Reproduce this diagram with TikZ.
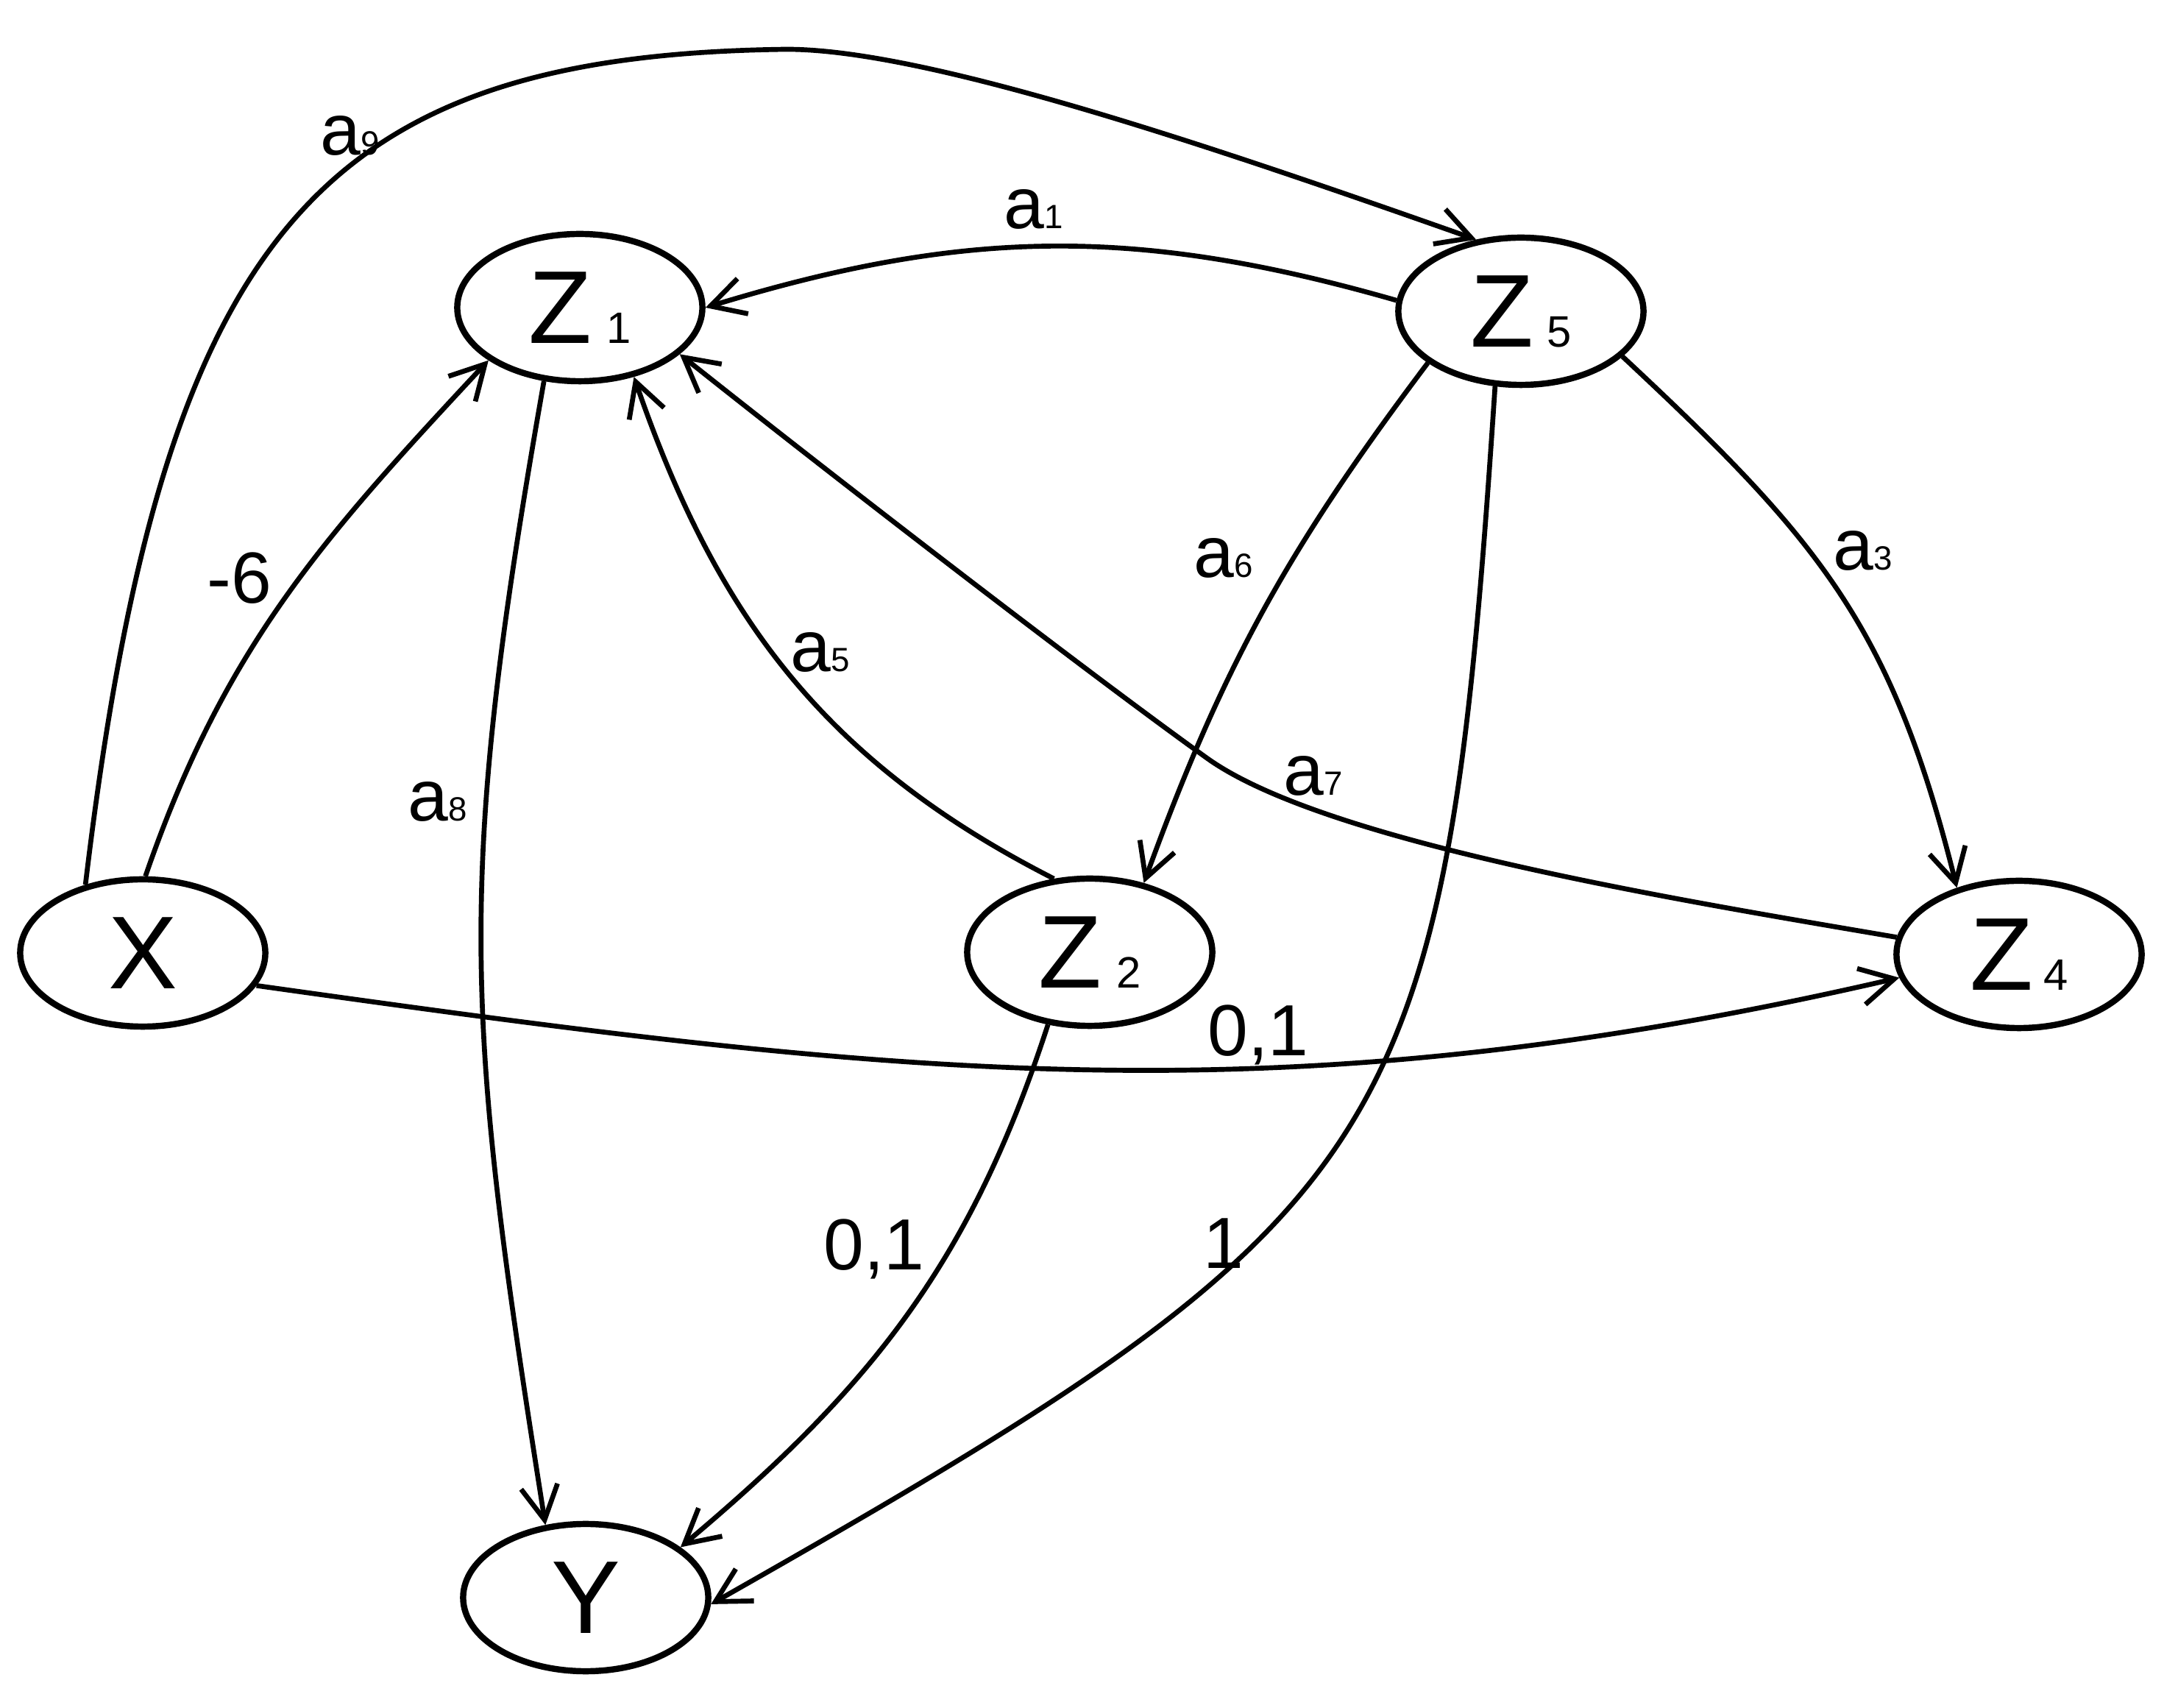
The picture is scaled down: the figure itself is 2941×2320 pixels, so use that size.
\documentclass[tikz,border=0pt]{standalone}
\usepackage{fontspec}
\setmainfont{Liberation Sans}
\usetikzlibrary{shapes.geometric,arrows.meta}
\newcommand\zn[2][5.6pt]{Z\kern#1{\fontsize{17pt}{17pt}\selectfont #2}}
\newcommand\an[1]{a{\fontsize{13pt}{13pt}\selectfont #1}}
\begin{document}
\begin{tikzpicture}[x=0.01cm,y=0.01cm,
  vertex/.style={ellipse, draw, line width=2.4pt, minimum width=3.33cm, minimum height=2.0cm, inner sep=0pt, font=\fontsize{40pt}{40pt}\selectfont},
  conn/.style={line width=1.9pt, line cap=butt, -{Straight Barb[length=4.6mm,width=5mm]}},
  lbl/.style={font=\fontsize{28pt}{28pt}\selectfont, inner sep=0pt}]
\useasboundingbox (0,0) rectangle (2941,2320);
\fill[white] (0,0) rectangle (2941,2320);
\node[vertex] (X) at (194,1025) {X};
\node[vertex] (Z1) at (788,1902) {\zn{1}};
\node[vertex] (Z5) at (2067,1897) {\zn[5.2pt]{5}};
\node[vertex] (Z2) at (1481,1026) {\zn{2}};
\node[vertex] (Z4) at (2744,1023) {\zn[4pt]{4}};
\node[vertex] (Y) at (796,149) {Y};
\coordinate (a9top) at (1069,2253);
\coordinate (a7mid) at (1640,1290);
% a9
\draw[conn] (X.130) .. controls (222,2005) and (433,2245) .. (a9top) .. controls (1260,2253) and (1650,2120) .. (Z5.122);
% -6
\draw[conn] (X.88) to[out=71, in=227] (Z1.210);
% a8
\draw[conn] (Z1.244) to[out=260, in=99, looseness=1.15] (Y.119);
% a1
\draw[conn] (Z5.175) to[out=164, in=17] (Z1.0);
% a5
\draw[conn] (Z2.116) to[out=153, in=289] (Z1.308);
% a7
\draw[conn] (Z4.172) .. controls (2281,1097) and (1800,1175) .. (a7mid) .. controls (1470,1412) and (1123,1680) .. (Z1.335);
% a6
\draw[conn] (Z5.209) to[out=233, in=70] (Z2.52);
% a3
\draw[conn] (Z5.336) to[out=317, in=104, looseness=1.1] (Z4.133);
% 1
\draw[conn] (Z5.251) .. controls (1963,757) and (1909,675) .. (Y.357);
% 0,1 Z2->Y
\draw[conn] (Z2.240) to[out=252, in=40] (Y.28);
% 0,1 X->Z4
\draw[conn] (X.344) to[out=352, in=193] (Z4.191);
% labels
\node[lbl] (l9) at (476,2135) {\an{9}};
\node[lbl] (l1) at (1405,2035) {\an{1}};
\node[lbl] (lm6) at (325,1534) {-6};
\node[lbl] (l5) at (1115,1433) {\an{5}};
\node[lbl] (l8) at (595,1231) {\an{8}};
\node[lbl] (l6) at (1663,1561) {\an{6}};
\node[lbl] (l3) at (2532,1571) {\an{3}};
\node[lbl] (l7) at (1785,1266) {\an{7}};
\node[lbl] (lx4) at (1710,914) {0,1};
\node[lbl] (l2y) at (1188,623) {0,1};
\node[lbl] (l5y) at (1663,630) {1};
\end{tikzpicture}
\end{document}
